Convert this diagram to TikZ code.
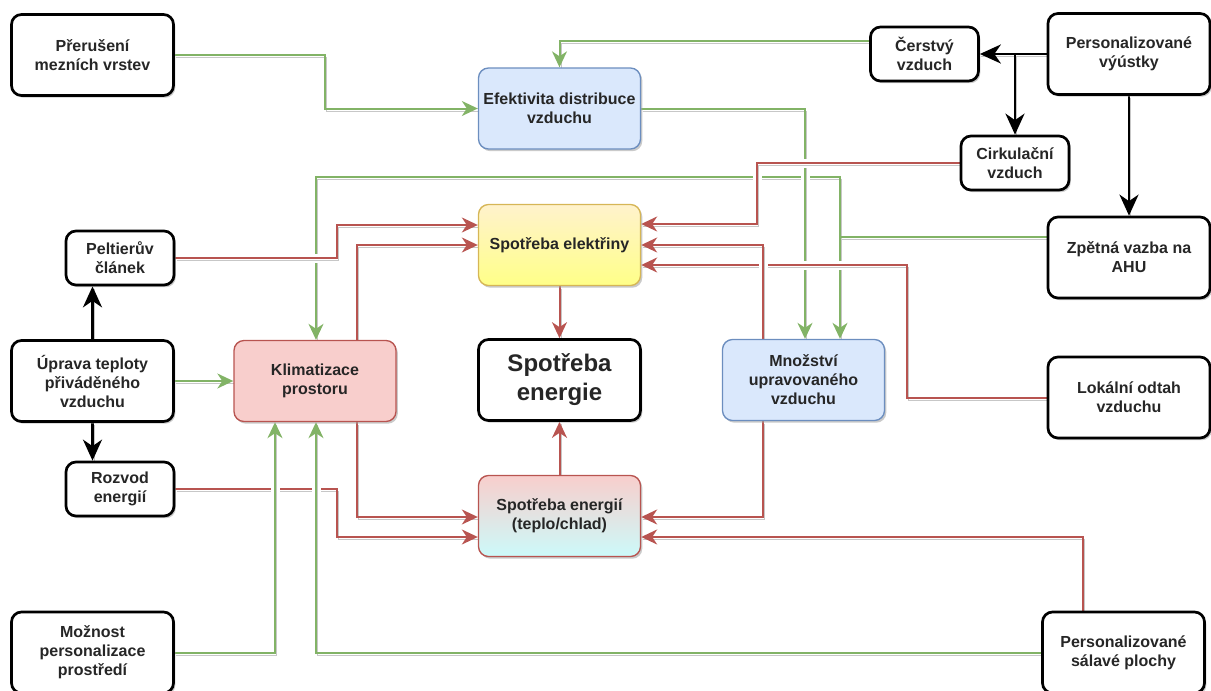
\documentclass[tikz,border=0pt]{standalone}
\usepackage{fontspec}
\setmainfont{Liberation Sans}
\usetikzlibrary{arrows.meta,shadows,backgrounds}
\definecolor{blueF}{HTML}{DAE8FC}
\definecolor{blueD}{HTML}{6C8EBF}
\definecolor{yelT}{HTML}{FFF2CC}
\definecolor{yelB}{HTML}{FFFF88}
\definecolor{yelD}{HTML}{D6B656}
\definecolor{redF}{HTML}{F8CECC}
\definecolor{redD}{HTML}{B85450}
\definecolor{cyanB}{HTML}{CCFAFA}
\definecolor{greenE}{HTML}{82B366}
\definecolor{redE}{HTML}{B85450}
\begin{document}
\begin{tikzpicture}[x=1pt,y=-1pt,
  box/.style={rounded corners=10pt, align=center, inner sep=0pt, text=black!85,
    font=\fontsize{16}{19}\selectfont\bfseries,
    drop shadow={shadow xshift=1.8pt,shadow yshift=-2.2pt,fill=black!35,opacity=.6}},
  bk/.style={box, draw=black, line width=2.7pt, fill=white, minimum width=162pt, minimum height=81pt},
  sm/.style={bk, minimum width=108pt, minimum height=54pt},
  blu/.style={box, draw=blueD, fill=blueF, line width=1.35pt, minimum width=162pt, minimum height=81pt},
  yel/.style={box, draw=yelD, top color=yelT, bottom color=yelB, line width=1.35pt, minimum width=162pt, minimum height=81pt},
  rdb/.style={box, draw=redD, fill=redF, line width=1.35pt, minimum width=162pt, minimum height=81pt},
  rcy/.style={box, draw=redD, top color=redF, bottom color=cyanB, line width=1.35pt, minimum width=162pt, minimum height=81pt},
  shd/.style={preaction={draw=black!22, arrows=-, transform canvas={xshift=1.5pt,yshift=-2.6pt}}},
  cut/.style={preaction={draw=white, line width=9pt, arrows=-}},
  ge/.style={shd, draw=greenE, line width=2pt, -{Stealth[length=16pt,width=15pt,inset=5pt]}},
  re/.style={shd, draw=redE, line width=2pt, -{Stealth[length=16pt,width=15pt,inset=5pt]}},
  ke/.style={shd, draw=black, line width=2.7pt, -{Stealth[length=21pt,width=19pt,inset=6.5pt]}}
]
\useasboundingbox (0,0) rectangle (1211,691);

% nodes
\node[bk] (per) at (92.5,55) {Přerušení\\mezních vrstev};
\node[blu] (eff) at (559.5,108.5) {Efektivita distribuce\\vzduchu};
\node[sm] (cer) at (924.5,54) {Čerstvý\\vzduch};
\node[bk] (vyu) at (1129,54) {Personalizované\\výústky};
\node[sm] (cir) at (1015,163) {Cirkulační\\vzduch};
\node[sm] (pel) at (120,258) {Peltierův\\článek};
\node[yel] (elk) at (559.5,245) {Spotřeba elektřiny};
\node[bk] (zpv) at (1129,257.5) {Zpětná vazba na\\AHU};
\node[bk] (upr) at (92.5,381) {Úprava teploty\\přiváděného\\vzduchu};
\node[rdb] (kli) at (315,381) {Klimatizace\\prostoru};
\node[bk, font=\fontsize{24}{29}\selectfont\bfseries] (ene) at (559.5,380) {Spotřeba\\energie};
\node[blu] (mno) at (803.5,380) {Množství\\upravovaného\\vzduchu};
\node[bk] (lok) at (1129,397.5) {Lokální odtah\\vzduchu};
\node[sm] (roz) at (120,489) {Rozvod\\energií};
\node[rcy] (eni) at (559.5,516) {Spotřeba energií\\(teplo/chlad)};
\node[bk] (moz) at (92.5,652.5) {Možnost\\personalizace\\prostředí};
\node[bk] (sal) at (1123.5,652.5) {Personalizované\\sálavé plochy};

\begin{pgfonlayer}{background}
% plain connectors
\draw[ge] (per.east) -- (per.east -| 325,0) |- (eff.west);
\draw[ge] (cer.west |- 0,41) -| (eff.north);
\draw[ge] (upr.east) -- (kli.west);
\draw[ke] (vyu.west) -- (cer.east);
\draw[ke] (vyu.west) -| (cir.north);
\draw[ke] (vyu.south) -- (zpv.north);
\draw[ke] (upr.north) -- (pel.south -| upr.north);
\draw[ke] (upr.south) -- (roz.north -| upr.south);
\draw[re] (elk.south) -- (ene.north);
\draw[re] (eni.north) -- (ene.south);
\draw[re] (kli.north -| 357,0) |- (elk.west);
\draw[re] (kli.south -| 357,0) |- (eni.west |- 0,517);
\draw[re] (mno.south -| 763,0) |- (eni.east |- 0,517);
\draw[re] (sal.north -| 1083,0) |- (eni.east |- 0,537);
\draw[re] (roz.east) -| (337,510) |- (eni.west |- 0,537);
\draw[ge] (zpv.west |- 0,237) -- (840,237) -- (840,177) -- (316,177) -- (kli.north -| 316,0);
\draw[ge] (zpv.west |- 0,237) -| (mno.north -| 840,0);
% connectors that cut the ones below at crossings
\draw[cut,ge] (eff.east) -| (mno.north -| 805,0);
\draw[cut,re] (cir.west) -| (757,200) |- (elk.east |- 0,224);
\draw[cut,re] (pel.east) -| (337,240) |- (elk.west |- 0,225);
\draw[cut,re] (lok.west) -| (907,300) |- (elk.east |- 0,265);
\draw[cut,re] (mno.north -| 763,0) |- (elk.east);
\draw[cut,ge] (moz.east) -| (kli.south -| 275,0);
\draw[cut,ge] (sal.west) -| (kli.south -| 316,0);
\end{pgfonlayer}
\end{tikzpicture}
\end{document}
